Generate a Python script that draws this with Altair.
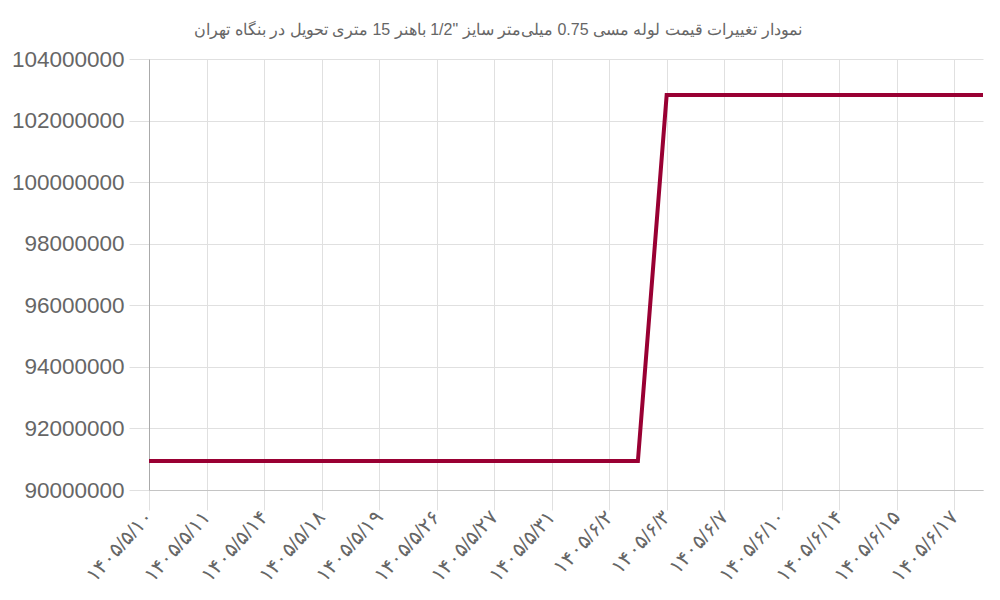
import altair as alt
import pandas as pd

title_text = 'نمودار تغییرات قیمت لوله مسی 0.75 میلی‌متر سایز "1/2 باهنر 15 متری تحویل در بنگاه تهران'

tick_labels = [
    "۱۴۰۵/۵/۱۰", "۱۴۰۵/۵/۱۱", "۱۴۰۵/۵/۱۴", "۱۴۰۵/۵/۱۸", "۱۴۰۵/۵/۱۹",
    "۱۴۰۵/۵/۲۶", "۱۴۰۵/۵/۲۷", "۱۴۰۵/۵/۳۱", "۱۴۰۵/۶/۲", "۱۴۰۵/۶/۳",
    "۱۴۰۵/۶/۷", "۱۴۰۵/۶/۱۰", "۱۴۰۵/۶/۱۴", "۱۴۰۵/۶/۱۵", "۱۴۰۵/۶/۱۷",
]

# 30 data points (every second one labelled on the axis)
prices = [90940000] * 18 + [102830000] * 12
idx = list(range(len(prices)))

df = pd.DataFrame({"i": idx, "price": prices})

label_expr = "[" + ",".join('"%s"' % t for t in tick_labels) + "][floor(datum.value / 2)]"

y_values = [90000000, 92000000, 94000000, 96000000, 98000000, 100000000, 102000000, 104000000]

chart = alt.Chart(df).mark_line(color="#990033", strokeWidth=4).encode(
    x=alt.X("i:Q",
            scale=alt.Scale(domain=[0, len(prices) - 1], nice=False, zero=False),
            axis=alt.Axis(values=list(range(0, len(prices), 2)), labelExpr=label_expr,
                          title=None, labelAngle=-48, labelAlign="right", labelBaseline="middle",
                          labelFontSize=20, labelColor="#666666", labelFont="Liberation Sans",
                          tickSize=20, tickColor="#e0e0e0", labelPadding=3,
                          gridColor="#e0e0e0", domainColor="#c4c4c4", labelOverlap=False,
                          labelFlush=False)),
    y=alt.Y("price:Q",
            scale=alt.Scale(domain=[90000000, 104000000], nice=False, zero=False),
            axis=alt.Axis(values=y_values, format="d", title=None,
                          labelFontSize=22.5, labelColor="#666666", labelFont="Liberation Sans",
                          tickSize=20, tickColor="#e0e0e0", labelPadding=5,
                          gridColor="#e0e0e0", domainColor="#aaaaaa")),
).properties(
    width=834,
    height=431,
    title=alt.TitleParams(title_text, fontSize=16, color="#666666", font="Liberation Sans",
                          fontWeight="normal", anchor="middle", dx=-68, offset=10),
    autosize=alt.AutoSizeParams(type="none"),
    padding={"left": 141, "top": 51, "right": 9, "bottom": 100},
).configure_view(stroke=None)

chart.save("out.html", embed_options={"renderer": "svg", "actions": False})
